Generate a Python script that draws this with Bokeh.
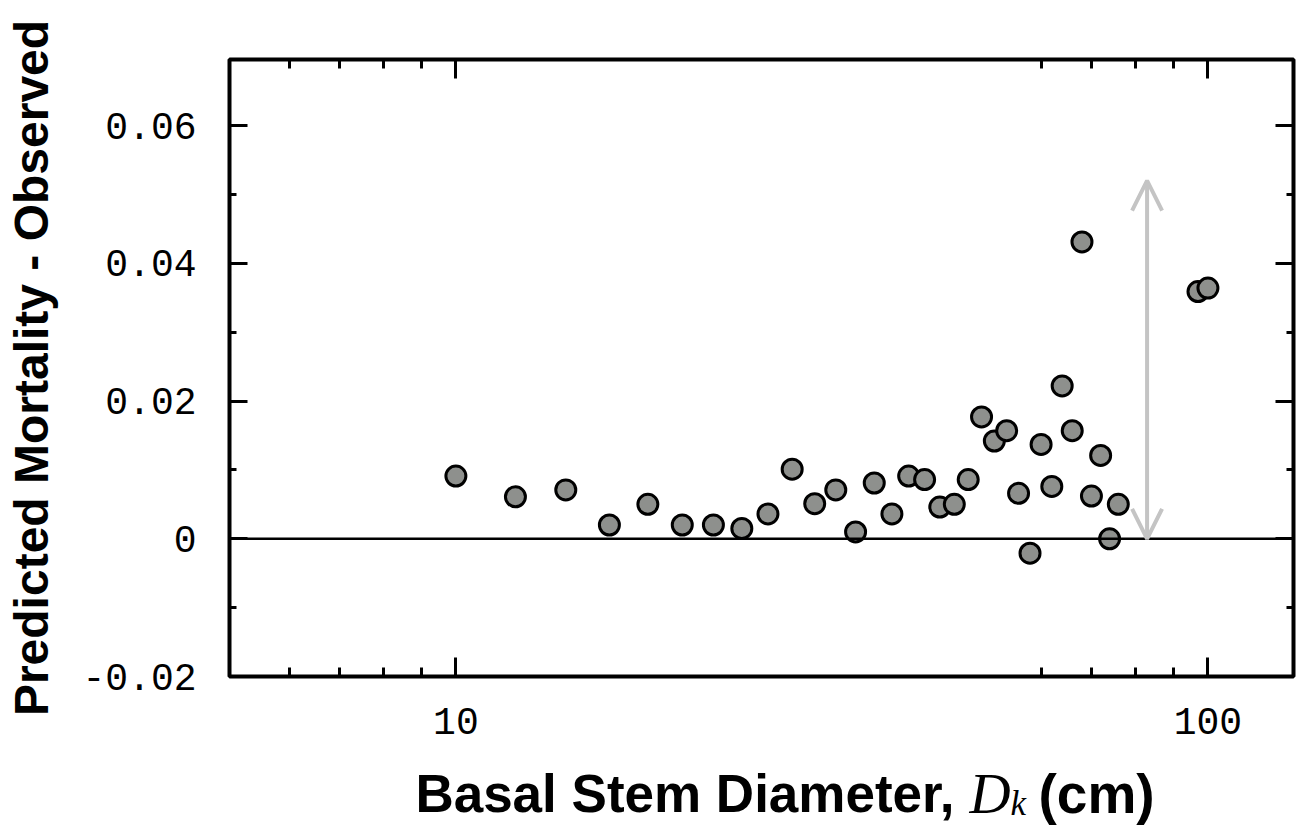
from bokeh.plotting import figure
from bokeh.models import (FixedTicker, LogAxis, LinearAxis, Span, Arrow, OpenHead,
                          Label, Range1d, ColumnDataSource)
from bokeh.layouts import column
from bokeh.embed import file_html
from bokeh.resources import INLINE

# ---------------- data ----------------
diameter = [10, 12, 14, 16, 18, 20, 22, 24, 26, 28, 30, 32, 34, 36, 38, 40, 42, 44,
            46, 48, 50, 52, 54, 56, 58, 60, 62, 64, 66, 68, 70, 72, 74, 76, 97, 100]
residual = [0.0091, 0.0061, 0.0071, 0.0020, 0.0050, 0.0020, 0.0020, 0.0015, 0.0036,
            0.0101, 0.0051, 0.0071, 0.0010, 0.0081, 0.0036, 0.0091, 0.0086, 0.0046,
            0.0050, 0.0086, 0.0177, 0.0142, 0.0157, 0.0066, -0.0021, 0.0137, 0.0076,
            0.0222, 0.0157, 0.0431, 0.0062, 0.0121, 0.0000, 0.0050, 0.0359, 0.0364]

x_major = [10, 100]
x_major_labels = ["10", "100"]
x_minor = [6, 7, 8, 9, 60, 70, 80, 90]
y_major = [-0.02, 0.0, 0.02, 0.04, 0.06]
y_major_labels = ["-0.02", "0", "0.02", "0.04", "0.06"]
y_minor = [-0.01, 0.01, 0.03, 0.05]

arrow_x = 83
arrow_y0 = 0.0
arrow_y1 = 0.052

y_title = "Predicted Mortality - Observed"
x_title_main = "Basal Stem Diameter,"
x_title_sym = "D"
x_title_sub = "k"
x_title_unit = "(cm)"

W, H = 1301, 829
BOTTOM_H = 72
MAIN_H = H - BOTTOM_H
FRAME_LEFT = 229

# ---------------- main plot ----------------
p = figure(width=W, height=MAIN_H, x_axis_type="log",
           x_range=Range1d(5, 129.95), y_range=Range1d(-0.02, 0.0696),
           output_backend="svg", toolbar_location=None,
           min_border_left=FRAME_LEFT, min_border_right=8, min_border_top=59,
           min_border_bottom=MAIN_H - 676)
p.grid.visible = False
p.outline_line_color = "black"
p.outline_line_width = 4
p.background_fill_color = "white"
p.border_fill_color = "white"

xt = FixedTicker(ticks=x_major, minor_ticks=x_minor)
yt = FixedTicker(ticks=y_major, minor_ticks=y_minor)

def style(ax, labels_map, is_x):
    ax.axis_line_color = None
    ax.major_tick_line_color = "black"
    ax.minor_tick_line_color = "black"
    ax.major_tick_line_width = 3
    ax.minor_tick_line_width = 3
    ax.major_tick_out = 0
    ax.minor_tick_out = 0
    ax.major_tick_in = 19 if is_x else 18
    ax.minor_tick_in = 9 if is_x else 7
    ax.major_label_text_font = "Liberation Mono"
    ax.major_label_text_font_size = "38px"
    ax.major_label_text_color = "black"
    ax.major_label_overrides = labels_map

xlab = {v: s for v, s in zip(x_major, x_major_labels)}
ylab = {v: s for v, s in zip(y_major, y_major_labels)}

bx = p.xaxis[0]
bx.ticker = xt
style(bx, xlab, True)
bx.major_label_standoff = 31

ly = p.yaxis[0]
ly.ticker = yt
style(ly, ylab, False)
ly.major_label_standoff = 33
ly.axis_label = y_title
ly.axis_label_text_font = "Liberation Sans"
ly.axis_label_text_font_style = "bold"
ly.axis_label_text_font_size = "48px"
ly.axis_label_text_color = "black"
ly.axis_label_standoff = 21

tx = LogAxis(ticker=xt)
style(tx, {v: "" for v in x_major}, True)
tx.major_label_standoff = 0
p.add_layout(tx, "above")

ry = LinearAxis(ticker=yt)
style(ry, {v: "" for v in y_major}, False)
ry.major_label_standoff = 0
p.add_layout(ry, "right")

p.add_layout(Span(location=0, dimension="width", line_color="black", line_width=2.5))

head_kw = dict(size=30, line_color="#c4c4c4", line_width=4)
p.add_layout(Arrow(x_start=arrow_x, y_start=arrow_y0, x_end=arrow_x, y_end=arrow_y1,
                   start=OpenHead(**head_kw), end=OpenHead(**head_kw),
                   line_color="#c4c4c4", line_width=4))

src = ColumnDataSource(data=dict(x=diameter, y=residual))
p.scatter("x", "y", source=src, size=20, fill_color="#8e908d",
          line_color="black", line_width=3)

# ---------------- x title strip (frame aligned with the main plot) ----------------
qb = figure(width=W, height=BOTTOM_H, x_axis_type=None, y_axis_type=None,
            output_backend="svg", toolbar_location=None, min_border=0,
            x_range=Range1d(0, 1), y_range=Range1d(0, 1))
qb.grid.visible = False
qb.outline_line_color = None
base = 36
qb.add_layout(Label(x=954 - FRAME_LEFT, y=base, x_units="screen", y_units="screen",
                    text=x_title_main, text_font="Liberation Sans",
                    text_font_style="bold", text_font_size="53px",
                    text_align="right", text_baseline="alphabetic", text_color="black"))
qb.add_layout(Label(x=969 - FRAME_LEFT, y=base, x_units="screen", y_units="screen",
                    text=x_title_sym, text_font="Liberation Serif",
                    text_font_style="italic", text_font_size="57px",
                    text_align="left", text_baseline="alphabetic", text_color="black"))
qb.add_layout(Label(x=1010 - FRAME_LEFT, y=base - 10, x_units="screen", y_units="screen",
                    text=x_title_sub, text_font="Liberation Serif",
                    text_font_style="italic", text_font_size="35px",
                    text_align="left", text_baseline="alphabetic", text_color="black"))
qb.add_layout(Label(x=1038 - FRAME_LEFT, y=base, x_units="screen", y_units="screen",
                    text=x_title_unit, text_font="Liberation Sans",
                    text_font_style="bold", text_font_size="55px",
                    text_align="left", text_baseline="alphabetic", text_color="black"))

layout = column(p, qb, spacing=0)
open("out.html", "w").write(file_html(layout, INLINE))
